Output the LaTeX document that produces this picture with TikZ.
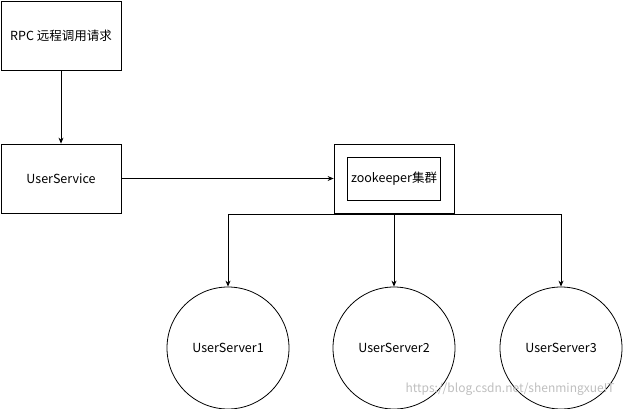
\documentclass[tikz,border=0pt]{standalone}
\usepackage{fontspec}
\usetikzlibrary{arrows.meta}
\setmainfont{Noto Sans CJK SC}
\begin{document}
\begin{tikzpicture}[x=1pt,y=-1pt,
  box/.style={draw,line width=0.8pt,inner sep=0pt},
  lbl/.style={font=\fontsize{12.5}{14}\selectfont},
  conn/.style={line width=0.8pt,-{Stealth[length=6pt,width=5pt]}},
  circ/.style={draw,circle,line width=0.8pt,minimum size=122pt,inner sep=0pt}]
\useasboundingbox (0,0) rectangle (623,409);
\fill[white] (0,0) rectangle (623,409);
\node[box,minimum width=120pt,minimum height=69pt] (rpc) at (61,35.5) {};
\node[lbl] at (rpc) {RPC 远程调用请求};
\node[box,minimum width=120pt,minimum height=69pt] (us) at (61,178.5) {};
\node[lbl] at (us) {UserService};
\node[box,minimum width=120pt,minimum height=69pt] (zk) at (394,178.5) {};
\node[box,minimum width=93pt,minimum height=43pt] (zki) at (394,178.5) {};
\node[lbl] at (zki) {zookeeper集群};
\node[circ] (s1) at (228,348) {};
\node[circ] (s2) at (394,348) {};
\node[circ] (s3) at (561,348) {};
\node[lbl] at (s1) {UserServer1};
\node[lbl] at (s2) {UserServer2};
\node[lbl] at (s3) {UserServer3};
\coordinate (j1) at (228,214);
\coordinate (j3) at (561,214);
\draw[conn] (rpc) -- (us);
\draw[conn] (us) -- (zk);
\draw[conn] (zk.south) -- (s2.north);
\draw[line width=0.8pt] (j1) -- (j3);
\draw[conn] (j1) -- (s1.north);
\draw[conn] (j3) -- (s3.north);
\node[text=black!25,font=\fontsize{12}{14}\selectfont,anchor=east] (wm) at (618,389) {https://blog.csdn.net/shenmingxueIT};
\end{tikzpicture}
\end{document}
